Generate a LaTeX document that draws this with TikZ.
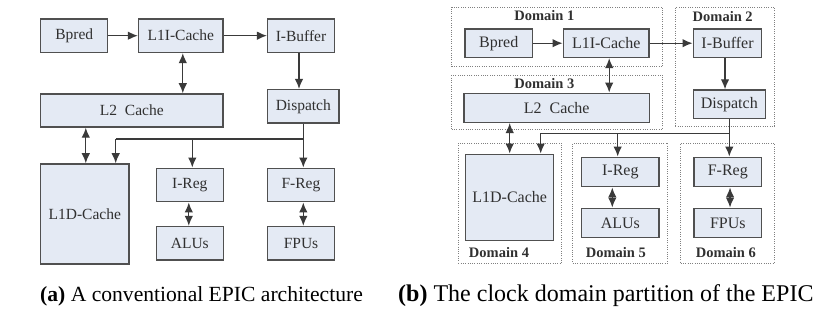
\documentclass[tikz,border=0pt]{standalone}
\usepackage{fontspec}
\setmainfont{Liberation Serif}
\usetikzlibrary{arrows.meta}
\definecolor{boxfill}{HTML}{E4EAF4}
\definecolor{boxline}{HTML}{505050}
\definecolor{txt}{HTML}{303030}
\definecolor{wire}{HTML}{3A3A3A}
\definecolor{dom}{HTML}{808080}
\begin{document}
\begin{tikzpicture}[x=1pt,y=-1pt,
  blk/.style={draw=boxline,fill=boxfill,line width=1.5pt,inner sep=0pt,
    text=txt,font=\fontsize{15.5}{17}\selectfont},
  blkb/.style={blk,font=\fontsize{16}{18}\selectfont},
  domb/.style={draw=dom,line width=1pt,dash pattern=on 1pt off 1.3pt,inner sep=0pt},
  domlab/.style={font=\bfseries\fontsize{14.5}{16}\selectfont,text=txt,inner sep=0pt},
  arr/.style={draw=wire,line width=1.3pt,-{Latex[length=10pt,width=8.5pt]}},
  dbl/.style={draw=wire,line width=1.3pt,{Latex[length=10pt,width=8.5pt]}-{Latex[length=10pt,width=8.5pt]}},
  ln/.style={draw=wire,line width=1.3pt},
  captxt/.style={anchor=west,inner sep=0pt}]
\useasboundingbox (0,0) rectangle (818,320);

% ---------------- (a) conventional ----------------
\node[blk,minimum width=67pt,minimum height=33.3pt] (bp) at (74.2,35.7) {Bpred};
\node[blk,minimum width=84.3pt,minimum height=33.3pt] (l1i) at (180.8,35.7) {L1I-Cache};
\node[blk,minimum width=66.6pt,minimum height=33.3pt] (ib) at (301,35.7) {I-Buffer};
\node[blk,minimum width=182.3pt,minimum height=33pt] (l2) at (131.8,110.5) {L2\ \ Cache};
\node[blk,minimum width=71.3pt,minimum height=33.3pt] (dp) at (303.3,106.3) {Dispatch};
\node[blk,minimum width=88.3pt,minimum height=100pt] (l1d) at (84.8,214) {L1D-Cache};
\node[blk,minimum width=67pt,minimum height=33.4pt] (ir) at (189.8,185) {I-Reg};
\node[blk,minimum width=67pt,minimum height=33.4pt] (al) at (189.8,243.3) {ALUs};
\node[blk,minimum width=66.6pt,minimum height=33.4pt] (fr) at (301,185) {F-Reg};
\node[blk,minimum width=66.6pt,minimum height=33.4pt] (fp) at (301,243.3) {FPUs};

\coordinate (ja) at (115.7,139);
\draw[arr] (bp) -- (l1i);
\draw[arr] (l1i) -- (ib);
\draw[dbl] ([xshift=2pt]l1i.south) -- ([xshift=2pt]l1i.south |- l2.north);
\draw[arr] ([xshift=-2pt]ib.south) -- ([xshift=-2pt]ib.south |- dp.north);
\draw[dbl] ([xshift=1pt]l1d.north |- l2.south) -- ([xshift=1pt]l1d.north);
\draw[ln] (dp.south) |- (ja);
\draw[arr] (ja) -- (ja |- l1d.north);
\draw[arr] ([xshift=2.5pt]ir.north |- ja) -- ([xshift=2.5pt]ir.north);
\draw[arr] (dp.south |- ja) -- (dp.south |- fr.north);
\draw[dbl] ([xshift=-1pt]ir.south) -- ([xshift=-1pt]al.north);
\draw[dbl] ([xshift=2.3pt]fr.south) -- ([xshift=2.3pt]fp.north);

\node[captxt,font=\fontsize{21.6}{24}\selectfont] (capa) at (40,296) {\textbf{(a)} A conventional EPIC architecture};

% ---------------- (b) clock domains ----------------
\node[domb,minimum width=211pt,minimum height=59.4pt] (d1) at (557.2,37) {};
\node[domb,minimum width=99pt,minimum height=119pt] (d2) at (724.8,66.8) {};
\node[domb,minimum width=211pt,minimum height=54pt] (d3) at (557.2,102.3) {};
\node[domb,minimum width=103.4pt,minimum height=120pt] (d4) at (510,203.3) {};
\node[domb,minimum width=95pt,minimum height=120pt] (d5) at (620.2,203.3) {};
\node[domb,minimum width=93.6pt,minimum height=120pt] (d6) at (727.5,203.3) {};

\node[domlab] (t1) at (544.3,15.5) {Domain 1};
\node[domlab] (t2) at (722.7,16.7) {Domain 2};
\node[domlab] (t3) at (544.3,83.5) {Domain 3};
\node[domlab] (t4) at (499,252.7) {Domain 4};
\node[domlab] (t5) at (615.8,252.7) {Domain 5};
\node[domlab] (t6) at (725.8,252.7) {Domain 6};

\node[blkb,minimum width=67.3pt,minimum height=28.3pt] (bp2) at (498.7,43.2) {Bpred};
\node[blkb,minimum width=85.7pt,minimum height=28.3pt] (l1i2) at (606.2,43.2) {L1I-Cache};
\node[blkb,minimum width=68.4pt,minimum height=28.3pt] (ib2) at (727.5,43.2) {I-Buffer};
\node[blkb,minimum width=72pt,minimum height=28.3pt] (dp2) at (729.3,104.2) {Dispatch};
\node[blkb,minimum width=185.3pt,minimum height=29pt] (l22) at (556.7,107.8) {L2\ \ Cache};
\node[blkb,minimum width=88pt,minimum height=86.4pt] (l1d2) at (509.7,197.5) {L1D-Cache};
\node[blkb,minimum width=77.3pt,minimum height=29.4pt] (ir2) at (620.3,172) {I-Reg};
\node[blkb,minimum width=77.3pt,minimum height=29.4pt] (al2) at (620.3,223) {ALUs};
\node[blkb,minimum width=67.7pt,minimum height=29.4pt] (fr2) at (727.8,172) {F-Reg};
\node[blkb,minimum width=67.7pt,minimum height=29.4pt] (fp2) at (727.8,223) {FPUs};

\coordinate (jb) at (540.7,133.3);
\draw[arr] (bp2) -- (l1i2);
\draw[arr] (l1i2) -- (ib2);
\draw[dbl] ([xshift=3pt]l1i2.south) -- ([xshift=3pt]l1i2.south |- l22.north);
\draw[arr] ([xshift=-2.5pt]ib2.south) -- ([xshift=-2.5pt]ib2.south |- dp2.north);
\draw[dbl] (l1d2.north |- l22.south) -- (l1d2.north);
\draw[ln] (dp2.south) |- (jb);
\draw[arr] (jb) -- (jb |- l1d2.north);
\draw[arr] ([xshift=-2.6pt]ir2.north |- jb) -- ([xshift=-2.6pt]ir2.north);
\draw[arr] (dp2.south |- jb) -- (dp2.south |- fr2.north);
\draw[dbl] ([xshift=-8pt]ir2.south) -- ([xshift=-8pt]al2.north);
\draw[dbl] ([xshift=2.2pt]fr2.south) -- ([xshift=2.2pt]fp2.north);

\node[captxt,font=\fontsize{24}{27}\selectfont] (capb) at (398,296) {\textbf{(b)} The clock domain partition of the EPIC};
\end{tikzpicture}
\end{document}
